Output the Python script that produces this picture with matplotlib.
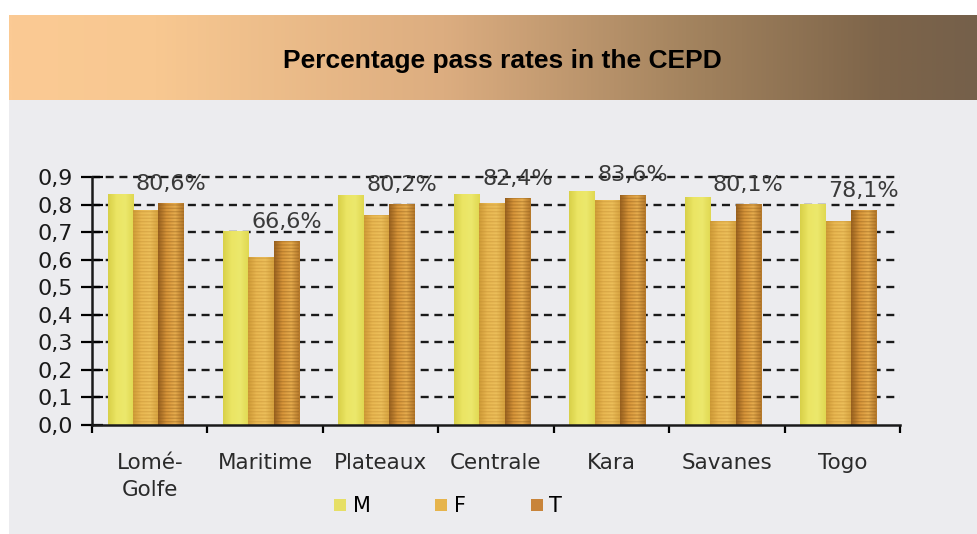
import matplotlib
matplotlib.use("Agg")
import matplotlib.pyplot as plt
import numpy as np
from matplotlib.patches import Rectangle
from matplotlib.lines import Line2D
from matplotlib.colors import LinearSegmentedColormap

# ---- data ----
categories = ["Lomé-\nGolfe", "Maritime", "Plateaux", "Centrale", "Kara", "Savanes", "Togo"]
series_names = ["M", "F", "T"]
m_values = [0.84, 0.705, 0.835, 0.84, 0.848, 0.828, 0.803]
f_values = [0.782, 0.611, 0.762, 0.806, 0.815, 0.741, 0.740]
t_values = [0.806, 0.666, 0.802, 0.824, 0.836, 0.801, 0.781]
t_labels = ["80,6%", "66,6%", "80,2%", "82,4%", "83,6%", "80,1%", "78,1%"]
y_ticks = [0.0, 0.1, 0.2, 0.3, 0.4, 0.5, 0.6, 0.7, 0.8, 0.9]
y_tick_labels = ["0,0", "0,1", "0,2", "0,3", "0,4", "0,5", "0,6", "0,7", "0,8", "0,9"]
title = "Percentage pass rates in the CEPD"

W, H = 977, 534
fig = plt.figure(figsize=(W / 100, H / 100), dpi=100)
fig.patch.set_facecolor("white")

def fx(px):
    return px / W

def fy(py):
    return 1 - py / H

# gray scanned background
fig.patches.append(Rectangle((fx(9), 0), 1 - fx(9), fy(100), transform=fig.transFigure,
                             facecolor="#ececef", edgecolor="none", zorder=-10))

# banner gradient
bax = fig.add_axes([fx(9), fy(100), 1 - fx(9), fy(15) - fy(100)])
bcmap = LinearSegmentedColormap.from_list("banner", [(0, "#fbca94"), (0.15, "#f8c891"), (0.45, "#dcad80"),
                                                     (0.7, "#a4845f"), (0.9, "#7e654a"), (1, "#75604a")])
grad = np.linspace(0, 1, 512).reshape(1, -1)
bax.imshow(grad, aspect="auto", cmap=bcmap, extent=(0, 1, 0, 1))
bax.set_axis_off()
fig.text(fx(502), fy(61), title, ha="center", va="center", fontsize=19,
         fontweight="bold", family="Liberation Sans", color="black")

# main axes
ax = fig.add_axes([fx(92), fy(425), fx(900) - fx(92), fy(177) - fy(425)])
ax.set_facecolor("none")
n = len(categories)
x = np.arange(n)
bw = 0.22
offset = np.array([-1, 0, 1]) * bw - 0.035

# gridlines
for yv in y_ticks[1:]:
    ax.axhline(yv, color="#1a1a1a", lw=1.7, dashes=(3.4, 2.4), zorder=1, clip_on=False)

cmaps = {
    "M": LinearSegmentedColormap.from_list("m", ["#d8d048", "#ebe564", "#ece86c", "#e0d852"]),
    "F": LinearSegmentedColormap.from_list("f", ["#d09c38", "#e9b852", "#ecbf5a", "#d6a240"]),
    "T": LinearSegmentedColormap.from_list("t", ["#9a6220", "#d8963a", "#e6ac4e", "#b4782a"]),
}
stripe = {"M": None, "F": "#c08a30", "T": "#8a5818"}

for vals, off, name in zip([m_values, f_values, t_values], offset, series_names):
    bars = ax.bar(x + off, vals, width=bw, color="none", edgecolor="none", zorder=3)
    for b in bars:
        x0, w, h = b.get_x(), b.get_width(), b.get_height()
        im = ax.imshow(np.linspace(0, 1, 64).reshape(1, -1), cmap=cmaps[name], aspect="auto",
                       extent=(x0, x0 + w, 0, h), zorder=2.5)
        im.set_clip_path(b)
        if stripe[name]:
            ax.bar(x0 + w / 2, h, width=w, color="none", edgecolor=stripe[name],
                   linewidth=0, hatch="-----", alpha=0.35, zorder=2.7)

# value labels above T bars
for xi, tv, lab in zip(x + offset[2], t_values, t_labels):
    ax.text(xi, tv + 0.07, lab, ha="center", va="center", fontsize=16, color="#3a3a3a",
            family="DejaVu Sans", clip_on=False, zorder=4)

ax.set_xlim(-0.5, n - 0.5)
ax.set_ylim(0, 0.9)
ax.set_yticks(y_ticks)
ax.set_yticklabels(y_tick_labels, fontsize=16, color="#1a1a1a", family="DejaVu Sans")
ax.tick_params(axis="y", direction="inout", length=16, width=1.6, pad=6)
ax.set_xticks(x)
ax.set_xticklabels(categories, fontsize=15.5, color="#2a2a2a", family="DejaVu Sans", linespacing=1.45)
ax.tick_params(axis="x", length=0, pad=20)
ax.set_xticks(np.arange(-0.5, n, 1.0), minor=True)
ax.tick_params(axis="x", which="minor", direction="out", length=6, width=1.6)
for s in ["top", "right"]:
    ax.spines[s].set_visible(False)
for s in ["left", "bottom"]:
    ax.spines[s].set_linewidth(1.8)
    ax.spines[s].set_color("#1a1a1a")
    ax.spines[s].set_zorder(5)

# legend
handles = [Line2D([], [], marker="s", linestyle="none", markersize=8, markeredgewidth=0,
                  markerfacecolor=c) for c in ["#e6df66", "#e6b44c", "#c8843a"]]
fig.legend(handles, series_names, loc="center", bbox_to_anchor=(fx(448), fy(506)), ncol=3,
           frameon=False, handlelength=0.6, handletextpad=0.3, columnspacing=3.1,
           prop={"family": "DejaVu Sans", "size": 15})

fig.savefig("out.png", dpi=100)
